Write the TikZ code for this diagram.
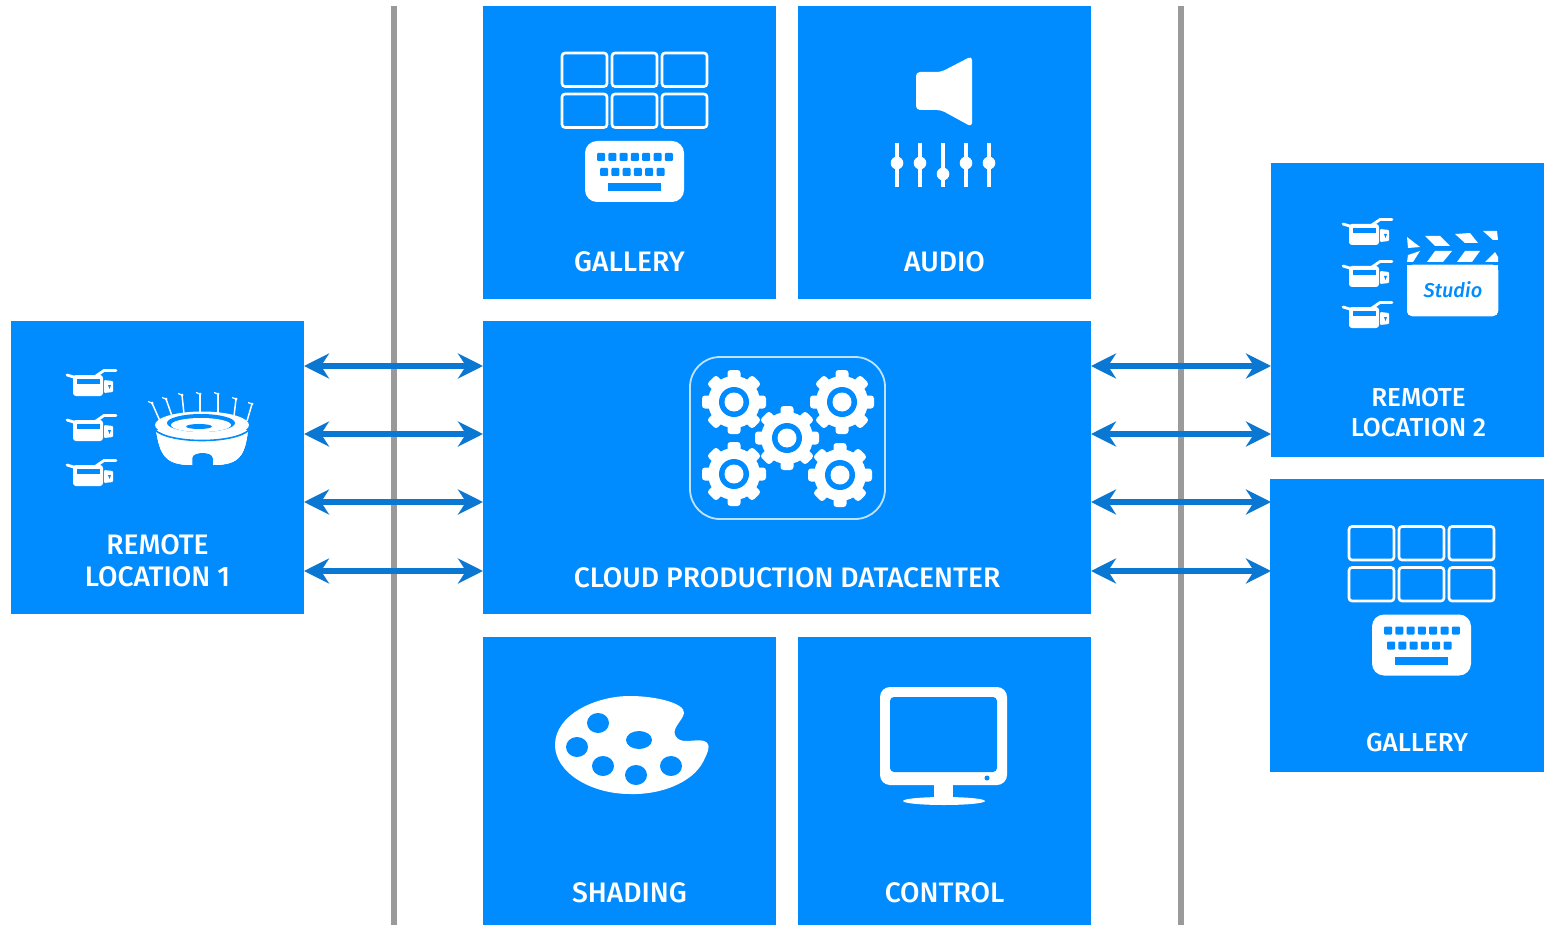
\documentclass[tikz,border=0pt]{standalone}
\usepackage{fontspec}
\setmainfont{Fira Sans Medium}
\usetikzlibrary{arrows.meta}
\definecolor{boxblue}{HTML}{008CFF}
\definecolor{arrowblue}{HTML}{0A78D2}
\definecolor{linegray}{HTML}{9A9A9A}
\tikzset{
  box/.style={fill=boxblue,draw=none,inner sep=0pt,outer sep=0pt,minimum width=#1},
  lab/.style={text=white,font=\fontsize{28.2}{32}\selectfont,align=center,inner sep=0pt},
  labs/.style={text=white,font=\fontsize{26}{30}\selectfont,align=center,inner sep=0pt},
  duplex/.style={draw=arrowblue,line width=5.5pt,{Stealth[length=25pt,width=25pt,inset=8pt]}-{Stealth[length=25pt,width=25pt,inset=8pt]}},
  divider/.style={draw=linegray,line width=6pt},
  cell/.style={draw=white,line width=2.6pt,rounded corners=3pt}
}
\newcommand{\camicon}[2]{\begin{scope}[shift={(#1,#2)}]
  \fill[white,rounded corners=3pt] (7,7) rectangle (37,28);
  \fill[boxblue] (11,11) rectangle (34,16);
  \draw[white,line width=2.8pt,line cap=round] (1,7) -- (11,10);
  \draw[white,line width=2.8pt,line cap=round] (30,8) -- (38,2.5) -- (50,2.5);
  \fill[white,rounded corners=1pt] (38,12) -- (47,13) -- (47,24) -- (38,25) -- cycle;
  \fill[boxblue] (42,17) -- (43.5,21) -- (45,17) -- cycle;
\end{scope}}
\newcommand{\galicon}[2]{\begin{scope}[shift={(#1,#2)}]
  \foreach \cx in {562,612,662} \foreach \cy in {53,94}
    \draw[cell] (\cx,\cy) rectangle ++(45,33.5);
  \fill[white,rounded corners=12pt] (585,141) rectangle (684,202);
  \foreach \kx in {0,...,6} \fill[boxblue,rounded corners=1pt] (597+11.3*\kx,153) rectangle ++(8,8);
  \foreach \kx in {0,...,5} \fill[boxblue,rounded corners=1pt] (600+11.3*\kx,168) rectangle ++(8,8);
  \fill[boxblue] (608,183) rectangle (661,191);
\end{scope}}
\newcommand{\gearicon}[2]{\begin{scope}[shift={(#1,#2)}]
  \foreach \ga in {0,45,...,315}
    \fill[white,rotate=\ga,rounded corners=3pt] (-6.5,-32) rectangle (6.5,0);
  \fill[white] (0,0) circle (26);
  \fill[boxblue] (0,0) circle (15);
  \fill[white] (0,0) circle (9.5);
\end{scope}}
\begin{document}
\begin{tikzpicture}[x=1pt,y=-1pt]
\useasboundingbox (0,0) rectangle (1544,925);
\fill[white] (0,0) rectangle (1544,925);
% row coordinates
\coordinate (y1) at (0,366);
\coordinate (y2) at (0,434);
\coordinate (y3) at (0,502);
\coordinate (y4) at (0,571);
\coordinate (dla) at (393.5,6);
\coordinate (dlb) at (393.5,925);
\coordinate (dra) at (1180.5,6);
\coordinate (drb) at (1180.5,925);
\draw[divider] (dla) -- (dlb);
\draw[divider] (dra) -- (drb);
% boxes
\node[box=293pt,minimum height=293pt] (gal) at (629.5,152.5) {};
\node[box=293pt,minimum height=293pt] (aud) at (944.5,152.5) {};
\node[box=608pt,minimum height=293pt] (cloud) at (787,467.5) {};
\node[box=293pt,minimum height=288pt] (shd) at (629.5,781) {};
\node[box=293pt,minimum height=288pt] (ctl) at (944.5,781) {};
\node[box=293pt,minimum height=293pt] (rl1) at (157.5,467.5) {};
\node[box=273pt,minimum height=294pt] (rl2) at (1407.5,310) {};
\node[box=274pt,minimum height=293pt] (galr) at (1407,625.5) {};
% arrows
\foreach \r in {y1,y2,y3,y4} {
  \draw[duplex] (rl1.east |- \r) -- (cloud.west |- \r);
  \draw[duplex] (cloud.east |- \r) -- (rl2.west |- \r);
}
% labels
\node[lab] (tgal) at (629.5,262) {GALLERY};
\node[lab] (taud) at (944.5,262) {AUDIO};
\node[lab] (tcloud) at (787,578) {CLOUD PRODUCTION DATACENTER};
\node[lab] (tshd) at (629.5,893) {SHADING};
\node[lab] (tctl) at (944.5,893) {CONTROL};
\node[lab] (trl1) at (157.5,561) {REMOTE\\LOCATION 1};
\node[labs] (trl2) at (1418.5,413) {REMOTE\\LOCATION 2};
\node[labs] (tgalr) at (1417,743) {GALLERY};
% gallery icons
\galicon{0}{0}
\galicon{787}{473.5}
% audio icon
\fill[white,rounded corners=4pt] (916,72) -- (941,72) -- (972,56) -- (972,127) -- (941,110) -- (916,110) -- cycle;
\foreach \sx/\sk in {897/163,920/163,943/174,966/163,989/163} {
  \draw[white,line width=3.4pt] (\sx,143) -- (\sx,187);
  \fill[white] (\sx,\sk) circle (6.3);
}
% cloud icon
\draw[white,opacity=.75,line width=1.8pt,rounded corners=30pt] (690,357) rectangle (885,519);
\gearicon{734}{402}
\gearicon{842}{402}
\gearicon{787}{438}
\gearicon{734}{474}
\gearicon{840}{475}
% palette
\fill[white] (555,745) .. controls (555,715) and (595,696) .. (630,696)
  .. controls (655,696) and (685,703) .. (684,713)
  .. controls (683,720) and (672,728) .. (675,735)
  .. controls (680,746) and (695,738) .. (704,741)
  .. controls (712,744) and (708,752) .. (703,762)
  .. controls (692,783) and (660,795) .. (630,794)
  .. controls (590,794) and (555,772) .. (555,745) -- cycle;
\foreach \hx/\hy/\hrx/\hry in {598/723/11/10,577/747/11/10,639/740/13/9,603/766/11/10,636/775/11/10,671/766/11/10}
  \fill[boxblue] (\hx,\hy) ellipse [x radius=\hrx,y radius=\hry];
% monitor
\fill[white,rounded corners=10pt] (880,687) rectangle (1007,785);
\fill[boxblue,rounded corners=4pt] (890,697) rectangle (997,772);
\fill[boxblue] (987,778) circle (2.5);
\fill[white] (934,785) rectangle (953,798);
\fill[white] (944,801) ellipse [x radius=41,y radius=4];
% remote 1
\foreach \cy in {368,413,458} \camicon{66}{\cy}
\fill[white] (156,430) .. controls (160,455) and (165,465) .. (192,465) -- (192,458) .. controls (192,451) and (213,451) .. (213,458) -- (213,465) .. controls (240,465) and (245,455) .. (248,430) -- cycle;
\fill[white] (202,425) ellipse [x radius=47,y radius=13.5];
\draw[boxblue,line width=1.6pt] (155,430) .. controls (170,444) and (234,444) .. (249,430);
\fill[boxblue] (201,423) ellipse [x radius=34,y radius=9];
\fill[white] (201,425) ellipse [x radius=30,y radius=7];
\fill[boxblue] (199,426.5) ellipse [x radius=13,y radius=2.5];
\foreach \ax/\ay/\bx/\by in {160/421/152/403,172/416/166/399,184/414/182/395,200/413/200/394,218/413/218/394,234/416/236/399,247/421/252/404} {
  \draw[white,line width=1.5pt] (\ax,\ay) -- (\bx,\by);
  \fill[white] (\bx,\by) circle (1.5);
  \draw[white,line width=1.2pt] (\bx,\by) -- ++(-4,-1.5);
}
% remote 2
\foreach \cy in {217,259,300} \camicon{1342}{\cy}
\fill[white,rounded corners=5pt] (1407,265) rectangle (1498,316);
\fill[white] (1407,265) rectangle (1498,272);
\fill[white] (1407,237) -- (1420,247) -- (1408,248) -- cycle;
\fill[white] (1425,236) -- (1440,236) -- (1450,246) -- (1435,246) -- cycle;
\fill[white] (1455,234) -- (1470,233) -- (1478,243) -- (1465,243) -- cycle;
\fill[white] (1483,231) -- (1497,231) -- (1498,240) -- (1493,240) -- cycle;
\fill[white] (1407,262) -- (1408,255) -- (1420,251) -- (1413,262) -- cycle;
\fill[white] (1427,262) -- (1435,251) -- (1452,251) -- (1443,262) -- cycle;
\fill[white] (1457,262) -- (1465,251) -- (1480,251) -- (1472,262) -- cycle;
\fill[white] (1485,262) -- (1495,252) -- (1498,257) -- (1498,262) -- cycle;
\node[text=boxblue,inner sep=0pt,font=\fontsize{20}{22}\selectfont\itshape] (studio) at (1453,290) {Studio};
\end{tikzpicture}
\end{document}
